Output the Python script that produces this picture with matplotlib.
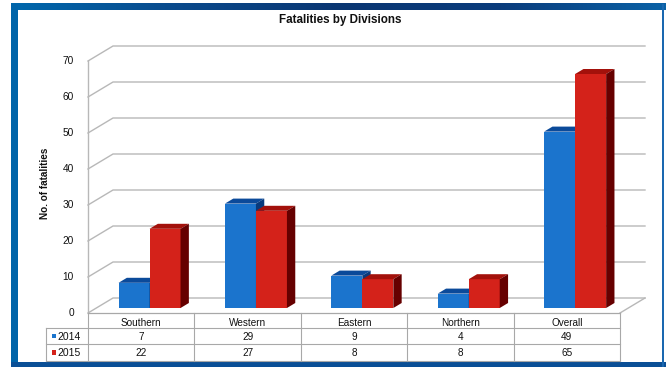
import matplotlib
matplotlib.use("Agg")
import matplotlib.pyplot as plt
from matplotlib.patches import Polygon, Rectangle
from matplotlib.colors import LinearSegmentedColormap
import numpy as np

# ---- data ----
categories = ["Southern", "Western", "Eastern", "Northern", "Overall"]
years = ["2014", "2015"]
fatalities_2014 = [7, 29, 9, 4, 49]
fatalities_2015 = [22, 27, 8, 8, 65]
y_ticks = [0, 10, 20, 30, 40, 50, 60, 70]

# ---- styling ----
W, H = 666, 367
FONT = ["Liberation Sans", "DejaVu Sans"]
NARROW = ["Liberation Sans Narrow", "Liberation Sans", "DejaVu Sans"]
GRID = "#b8b8b8"
TABLE = "#a8a8a8"
face = {"2014": "#1b74cd", "2015": "#d4221a"}
top = {"2014": "#0b4a9a", "2015": "#a3110b"}
side = {"2014": "#083a7c", "2015": "#660000"}

plt.rcParams["font.family"] = FONT

fig = plt.figure(figsize=(W / 100, H / 100), dpi=100)
fig.patch.set_facecolor("white")

# background layer in pixel units: frame and table
bg = fig.add_axes([0, 0, 1, 1])
bg.set_xlim(0, W)
bg.set_ylim(H, 0)
bg.axis("off")

# blue frame
cmap = LinearSegmentedColormap.from_list(
    "band", ["#0068ad", "#0a4a8c", "#0a3672", "#0b3c7c", "#0a62a6"])
grad = np.linspace(0, 1, 256).reshape(1, -1)
bg.imshow(grad, cmap=cmap, extent=[11, W, 10.5, 4], aspect="auto", zorder=0)
bg.add_patch(Rectangle((11, 4), 6.5, H - 4, color="#0064a9", lw=0, zorder=1))
bg.add_patch(Rectangle((11, 361.5), W - 11, 6, color="#0a4f96", lw=0, zorder=1))
bg.add_patch(Rectangle((662, 4), 1.6, H - 4, color="#1a68b0", lw=0, zorder=1))

# chart axes: front plane, x in category units, y in value units
AX_L, AX_R, AX_B, AX_T = 88, 620, 313, 61
ax = fig.add_axes([AX_L / W, (H - AX_B) / H, (AX_R - AX_L) / W, (AX_B - AX_T) / H])
n = len(categories)
ax.set_xlim(-0.5, n - 0.5)
ax.set_ylim(0, 70)
ax.axis("off")
ax.patch.set_alpha(0)

col_w = (AX_R - AX_L) / n               # pixels per category
px_per_val = (AX_B - AX_T) / 70.0       # pixels per unit
DX = 25 / col_w                          # wall depth (x, data units)
DY = 15 / px_per_val                     # wall depth (y, data units)

# back wall gridlines with their side-wall diagonals
for v in y_ticks:
    ax.plot([-0.5, -0.5 + DX, n - 0.5 + DX], [v, v + DY, v + DY],
            color=GRID, lw=1.0, clip_on=False, zorder=1)
    ax.text(-0.5 - 14 / col_w, v, str(v), ha="right", va="center",
            fontsize=7.3, color="#111111")
ax.plot([-0.5, -0.5], [0, 70], color=GRID, lw=1.0, clip_on=False, zorder=1)
ax.plot([n - 0.5, n - 0.5 + DX], [0, DY], color=GRID, lw=1.0, clip_on=False, zorder=1)
ax.plot([-0.5, n - 0.5], [0, 0], color=TABLE, lw=0.9, clip_on=False, zorder=1)

# 3-D bars: front face via ax.bar, top and side faces as polygons
BW = 31 / col_w
dx, dy = DX / 3, DY / 3
x = np.arange(n)
for k, (yr, vals) in enumerate(zip(years, [fatalities_2014, fatalities_2015])):
    lefts = x + dx - BW + k * BW
    ax.bar(lefts, vals, width=BW, bottom=dy, align="edge",
           color=face[yr], lw=0, zorder=3 + 2 * k)
    for x0, v in zip(lefts, vals):
        x1 = x0 + BW
        ax.add_patch(Polygon([(x0, v + dy), (x1, v + dy), (x1 + dx, v + 2 * dy),
                              (x0 + dx, v + 2 * dy)], closed=True,
                             color=top[yr], lw=0, zorder=3 + 2 * k, clip_on=False))
        ax.add_patch(Polygon([(x1, dy), (x1 + dx, 2 * dy), (x1 + dx, v + 2 * dy),
                              (x1, v + dy)], closed=True,
                             color=side[yr], lw=0, zorder=4 + 2 * k, clip_on=False))

# data table under the chart
col_edges = [AX_L + i * col_w for i in range(n + 1)]
row_y = [AX_B, 328, 344, 361]
TL = 46
lw_t = 0.8
for xe in col_edges:
    bg.plot([xe, xe], [row_y[0], row_y[-1]], color=TABLE, lw=lw_t, zorder=2)
bg.plot([TL, TL], [row_y[1], row_y[-1]], color=TABLE, lw=lw_t, zorder=2)
for yy in row_y[1:]:
    bg.plot([TL, AX_R], [yy, yy], color=TABLE, lw=lw_t, zorder=2)

for i, name in enumerate(categories):
    cx = (col_edges[i] + col_edges[i + 1]) / 2
    bg.text(cx, 328.5, name, ha="center", va="bottom", fontsize=7.2, color="#111111")
    for r, vals in enumerate([fatalities_2014, fatalities_2015]):
        cy = (row_y[r + 1] + row_y[r + 2]) / 2
        bg.text(cx, cy + 0.5, str(vals[i]), ha="center", va="center",
                fontsize=7.2, color="#111111")

for r, yr in enumerate(years):
    cy = (row_y[r + 1] + row_y[r + 2]) / 2
    bg.add_patch(Rectangle((51.5, cy - 2.5), 4.5, 4.5, color=face[yr], lw=0, zorder=3))
    bg.text(57, cy + 0.5, yr, ha="left", va="center", fontsize=7.5, color="#111111")

# titles
bg.text(340, 20, "Fatalities by Divisions", ha="center", va="center",
        fontsize=8.4, fontweight="bold", color="#111111")
bg.text(45, 183, "No. of fatalities", ha="center", va="center", rotation=90,
        fontsize=7.2, fontweight="bold", family=NARROW, color="#111111")

fig.savefig("out.png", dpi=100)
